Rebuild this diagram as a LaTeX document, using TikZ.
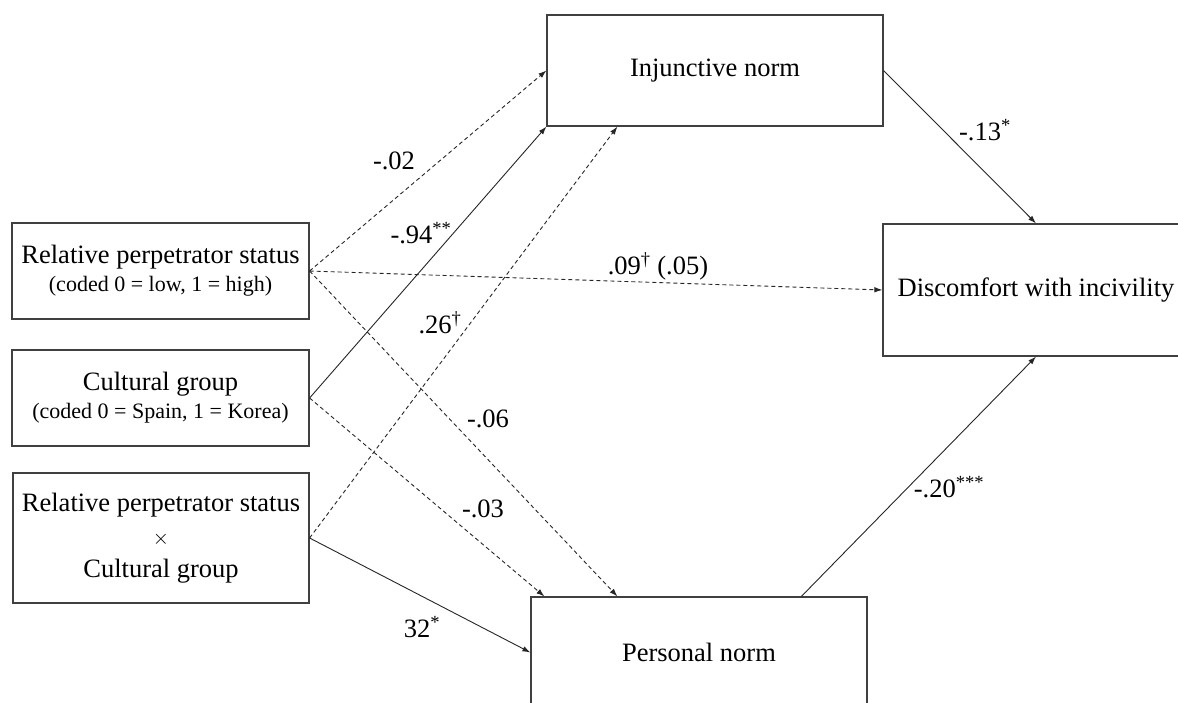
\documentclass[tikz,border=0pt]{standalone}
\usepackage{fontspec}
\setmainfont{Liberation Serif}
\usetikzlibrary{arrows.meta,calc}
\begin{document}
\begin{tikzpicture}[x=1pt,y=-1pt,
  box/.style={draw=black!75,line width=1.2pt,fill=white,inner sep=0pt,align=center,font=\fontsize{26.5}{30}\selectfont},
  lab/.style={inner sep=1pt,font=\fontsize{26.5}{30}\selectfont},
  path/.style={line width=0.9pt,draw=black!85,-{Latex[length=8pt,width=5.5pt]}},
  dpath/.style={path,dash pattern=on 4pt off 3pt}]
\useasboundingbox (0,0) rectangle (1178,702);
\clip (0,0) rectangle (1178,702);
\fill[white] (0,0) rectangle (1178,702);
% boxes
\node[box,minimum width=297pt,minimum height=96pt] (rel) at (160.5,271)
  {Relative perpetrator status\\[-2pt]{\fontsize{22}{26}\selectfont (coded 0 = low, 1 = high)}};
\node[box,minimum width=297pt,minimum height=96pt] (cult) at (160.5,398)
  {Cultural group\\[-2pt]{\fontsize{22}{26}\selectfont (coded 0 = Spain, 1 = Korea)}};
\node[box,minimum width=296pt,minimum height=130pt] (inter) at (161,538)
  {Relative perpetrator status\\[3pt]{\fontsize{22}{26}\selectfont $\times$}\\[3pt]Cultural group};
\node[box,minimum width=336pt,minimum height=111pt] (inj) at (715,70.5) {Injunctive norm};
\node[box,minimum width=306pt,minimum height=132pt] (disc) at (1036,290) {Discomfort with incivility};
\node[box,minimum width=336pt,minimum height=111pt] (pers) at (699,652.5) {Personal norm};
% connectors
\draw[dpath] (rel.east) -- (inj.west);
\draw[dpath] (rel.east) -- (disc.west);
\draw[dpath] (rel.east) -- ($(pers.north west)+(87,0)$);
\draw[path] (cult.east) -- (inj.south west);
\draw[dpath] (cult.east) -- ($(pers.north west)+(14,0)$);
\draw[dpath] (inter.east) -- ($(inj.south west)+(71,0)$);
\draw[path] (inter.east) -- (pers.west);
\draw[path] (inj.east) -- (disc.north);
\draw[path] ($(pers.north west)+(271,0)$) -- (disc.south);
% labels
\node[lab] (l1) at (394,161) {-.02};
\node[lab] (l2) at (421,233) {-.94\textsuperscript{**}};
\node[lab] (l3) at (440,323) {.26\textsuperscript{†}};
\node[lab] (l4) at (658,266) {.09\textsuperscript{†} (.05)};
\node[lab] (l5) at (488,419) {-.06};
\node[lab] (l6) at (483,509) {-.03};
\node[lab] (l7) at (422,627) {32\textsuperscript{*}};
\node[lab] (l8) at (985,130) {-.13\textsuperscript{*}};
\node[lab] (l9) at (949,487) {-.20\textsuperscript{***}};
\end{tikzpicture}
\end{document}
